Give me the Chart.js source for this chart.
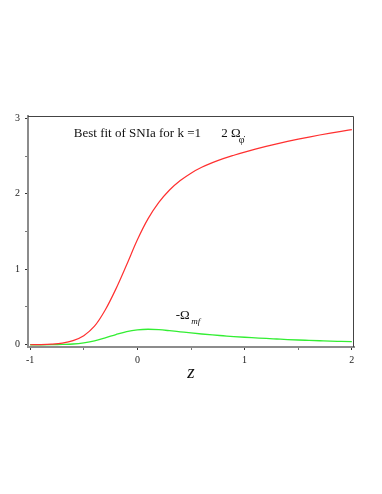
<!DOCTYPE html>
<html>
<head>
<meta charset="utf-8">
<script src="https://cdn.jsdelivr.net/npm/chart.js@4.4.1/dist/chart.umd.min.js"></script>
<style>
  html, body { margin: 0; padding: 0; background: #fff; }
  #wrap { width: 382px; height: 494px; position: relative; }
</style>
</head>
<body>
<div id="wrap"><canvas id="bestFitChart"></canvas></div>
<script>
// redshift samples
const zVals = [-1, -0.9, -0.8, -0.7, -0.6, -0.5, -0.4, -0.3, -0.2, -0.1,
  0, 0.1, 0.2, 0.3, 0.4, 0.5, 0.6, 0.7, 0.8, 0.9,
  1, 1.1, 1.2, 1.3, 1.4, 1.5, 1.6, 1.7, 1.8, 1.9, 2];

// 2 Omega_phi (red)
const twoOmegaPhi = [0, 0.002, 0.008, 0.022, 0.055, 0.12, 0.245, 0.46, 0.74, 1.06,
  1.39, 1.67, 1.885, 2.05, 2.175, 2.273, 2.35, 2.412, 2.465, 2.51,
  2.552, 2.591, 2.627, 2.661, 2.693, 2.723, 2.751, 2.778, 2.803, 2.827, 2.85];

// -Omega_mf (green)
const minusOmegaMf = [0, 0, 0.001, 0.004, 0.01, 0.025, 0.05, 0.09, 0.135, 0.175,
  0.198, 0.205, 0.199, 0.186, 0.171, 0.156, 0.142, 0.13, 0.119, 0.108,
  0.099, 0.091, 0.083, 0.076, 0.069, 0.063, 0.058, 0.053, 0.048, 0.044, 0.04];

const xTicks = [-1, 0, 1, 2];
const yTicks = [0, 1, 2, 3];

const serif = "'Liberation Serif', 'DejaVu Serif', serif";

function toPoints(ys) {
  return zVals.map((z, i) => ({ x: z, y: ys[i] }));
}

// frame + text labels, placed through the scales
const annotatePlugin = {
  id: 'annotate',
  afterDraw(chart) {
    const { ctx, chartArea, scales } = chart;
    const xs = scales.x, ys = scales.y;
    ctx.save();
    // thin top / right frame
    ctx.strokeStyle = '#444';
    ctx.lineWidth = 1;
    ctx.beginPath();
    ctx.moveTo(chartArea.left, chartArea.top + 0.5);
    ctx.lineTo(chartArea.right - 0.5, chartArea.top + 0.5);
    ctx.lineTo(chartArea.right - 0.5, chartArea.bottom);
    ctx.stroke();

    ctx.fillStyle = '#111';
    ctx.textBaseline = 'alphabetic';
    ctx.textAlign = 'left';
    const txt = (s, zx, vy, font) => {
      ctx.font = font;
      ctx.fillText(s, xs.getPixelForValue(zx), ys.getPixelForValue(vy));
    };
    txt('Best fit of SNIa for k =1', -0.593, 2.758, '13px ' + serif);
    txt('2 \u03A9', 0.782, 2.758, '13px ' + serif);
    txt('\u03C6\u0307', 0.945, 2.672, '10px ' + serif);
    txt('-\u03A9', 0.357, 0.34, '13px ' + serif);
    txt('mf', 0.503, 0.274, 'italic 9px ' + serif);

    // axis title
    ctx.textAlign = 'center';
    ctx.font = 'italic 19px ' + serif;
    ctx.fillText('z', (chartArea.left + chartArea.right) / 2, chartArea.bottom + 31);
    ctx.restore();
  }
};

const tickFont = { family: serif, size: 10 };

new Chart(document.getElementById('bestFitChart'), {
  type: 'line',
  data: {
    datasets: [
      {
        label: '2 Ω_φ',
        data: toPoints(twoOmegaPhi),
        borderColor: '#ff3030',
        borderWidth: 1.2,
        pointRadius: 0,
        cubicInterpolationMode: 'monotone',
        fill: false
      },
      {
        label: '-Ω_mf',
        data: toPoints(minusOmegaMf),
        borderColor: '#33ee33',
        borderWidth: 1.3,
        pointRadius: 0,
        cubicInterpolationMode: 'monotone',
        fill: false
      }
    ]
  },
  options: {
    responsive: true,
    maintainAspectRatio: false,
    animation: false,
    layout: { padding: { top: 116, right: 28, left: 0, bottom: 0 } },
    plugins: {
      legend: { display: false },
      tooltip: { enabled: false }
    },
    scales: {
      x: {
        type: 'linear',
        min: -1.02,
        max: 2.02,
        afterFit: s => { s.height = 147; },
        border: { color: '#8c8c8c', width: 2 },
        grid: {
          drawOnChartArea: false,
          tickLength: 3,
          tickColor: c => (xTicks.includes(c.tick && c.tick.value) ? '#333' : '#777')
        },
        ticks: {
          stepSize: 0.5,
          includeBounds: false,
          maxRotation: 0,
          padding: 4,
          color: '#222',
          font: tickFont,
          callback: v => (xTicks.includes(v) ? String(v) : '')
        }
      },
      y: {
        type: 'linear',
        min: -0.03,
        max: 3.03,
        afterFit: s => { s.width = 28; },
        border: { color: '#8c8c8c', width: 2 },
        grid: {
          drawOnChartArea: false,
          tickLength: 3,
          tickColor: c => (yTicks.includes(c.tick && c.tick.value) ? '#333' : '#777')
        },
        ticks: {
          stepSize: 0.5,
          includeBounds: false,
          padding: 5,
          color: '#222',
          font: tickFont,
          callback: v => (yTicks.includes(v) ? String(v) : '')
        }
      }
    }
  },
  plugins: [annotatePlugin]
});
</script>
</body>
</html>
